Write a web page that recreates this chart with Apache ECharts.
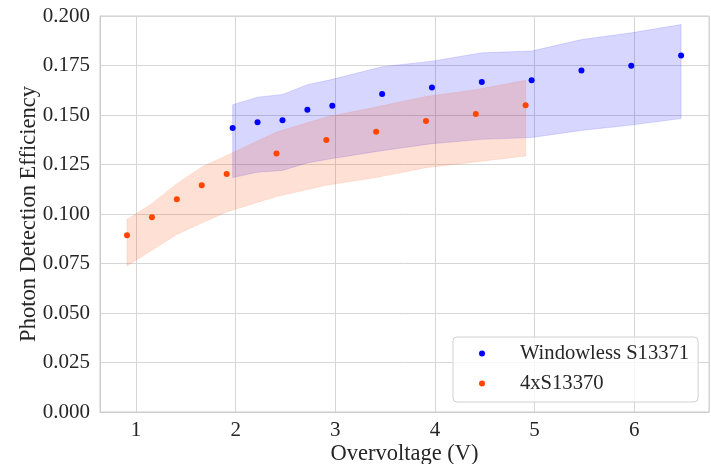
<!DOCTYPE html>
<html>
<head>
<meta charset="utf-8">
<script src="https://cdn.jsdelivr.net/npm/echarts@6/dist/echarts.min.js"></script>
<style>
  html, body { margin: 0; padding: 0; background: #fff; }
  #main { width: 711px; height: 464px; }
</style>
</head>
<body>
<div id="main"></div>
<script>
// Windowless S13371
const blueX  = [1.97, 2.22, 2.47, 2.72, 2.97, 3.47, 3.97, 4.47, 4.97, 5.47, 5.97, 6.47];
const blueY  = [0.1434, 0.1463, 0.1473, 0.1527, 0.1547, 0.1606, 0.1639, 0.1667, 0.1676, 0.1725, 0.1749, 0.1801];
const blueHi = [0.1552, 0.1590, 0.1604, 0.1653, 0.1680, 0.1744, 0.1772, 0.1814, 0.1823, 0.1881, 0.1915, 0.1957];
const blueLo = [0.1184, 0.1211, 0.1220, 0.1258, 0.1280, 0.1320, 0.1355, 0.1377, 0.1386, 0.1422, 0.1449, 0.1482];

// 4xS13370
const orangeX  = [0.91, 1.16, 1.41, 1.66, 1.91, 2.41, 2.91, 3.41, 3.91, 4.41, 4.91];
const orangeY  = [0.0893, 0.0984, 0.1074, 0.1145, 0.1202, 0.1305, 0.1374, 0.1416, 0.1470, 0.1505, 0.1549];
const orangeHi = [0.0972, 0.1053, 0.1153, 0.1237, 0.1296, 0.1414, 0.1490, 0.1540, 0.1594, 0.1628, 0.1675];
const orangeLo = [0.0738, 0.0817, 0.0896, 0.0955, 0.1010, 0.1088, 0.1145, 0.1184, 0.1234, 0.1263, 0.1293];

const xTicks = [1, 2, 3, 4, 5, 6];
const names = ['Windowless S13371', '4xS13370'];

const font = 'Liberation Serif';
const textCol = '#262626';

function band(xs, lo, hi, fill, stroke) {
    return function(params, api) {
        let pts = [];
        for (let i = 0; i < xs.length; i++) pts.push(api.coord([xs[i], hi[i]]));
        for (let i = xs.length - 1; i >= 0; i--) pts.push(api.coord([xs[i], lo[i]]));
        return {
            type: 'polygon',
            shape: { points: pts },
            style: { fill: fill, stroke: stroke, lineWidth: 1 }
        };
    };
}

let chart = echarts.init(document.getElementById('main'));
let option = {
    animation: false,
    backgroundColor: '#fff',
    grid: {
        left: 100, right: 2, top: 16, bottom: 52,
        outerBoundsMode: 'none',
        show: true, borderColor: '#cccccc', borderWidth: 1
    },
    xAxis: {
        type: 'value',
        min: 0.639, max: 6.75,
        splitNumber: 6,
        name: 'Overvoltage (V)',
        nameLocation: 'middle',
        nameGap: 31,
        nameMoveOverlap: false,
        nameTextStyle: { fontFamily: font, fontSize: 22.5, color: textCol },
        axisLine: { lineStyle: { color: '#cccccc' } },
        axisTick: { show: false },
        axisLabel: {
            fontFamily: font, fontSize: 21, color: textCol, margin: 8,
            formatter: v => xTicks.includes(v) ? String(v) : ''
        },
        splitLine: { show: true, lineStyle: { color: '#d6d6d6', width: 1 } }
    },
    yAxis: {
        type: 'value',
        min: 0, max: 0.2, interval: 0.025,
        name: 'Photon Detection Efficiency',
        nameLocation: 'middle',
        nameGap: 59,
        nameMoveOverlap: false,
        nameTextStyle: { fontFamily: font, fontSize: 22.5, color: textCol },
        axisLine: { show: true, lineStyle: { color: '#cccccc' } },
        axisTick: { show: false },
        axisLabel: {
            fontFamily: font, fontSize: 21, color: textCol, margin: 10,
            formatter: v => v.toFixed(3)
        },
        splitLine: { show: true, lineStyle: { color: '#d6d6d6', width: 1 } }
    },
    legend: {
        data: names,
        orient: 'vertical',
        left: 453, top: 337,
        padding: [6, 9, 8, 26],
        itemGap: 9,
        itemWidth: 6, itemHeight: 6,
        icon: 'circle',
        backgroundColor: 'rgba(255,255,255,0.8)',
        borderColor: '#d0d0d0', borderWidth: 1, borderRadius: 4,
        formatter: name => '{t|' + name + '}',
        textStyle: {
            fontFamily: font, fontSize: 20.6, color: textCol, lineHeight: 20,
            rich: { t: { fontFamily: font, fontSize: 20.6, color: textCol, lineHeight: 20, padding: [0, 0, 0, 30] } }
        }
    },
    series: [
        {
            type: 'custom', silent: true, z: 1,
            renderItem: band(blueX, blueLo, blueHi, 'rgba(0,0,255,0.16)', 'rgba(0,0,255,0.12)'),
            data: [[blueX[0], blueLo[0]]]
        },
        {
            type: 'custom', silent: true, z: 2,
            renderItem: band(orangeX, orangeLo, orangeHi, 'rgba(255,69,0,0.17)', 'rgba(255,69,0,0.1)'),
            data: [[orangeX[0], orangeLo[0]]]
        },
        {
            name: names[0], type: 'scatter', z: 3,
            symbolSize: 6,
            itemStyle: { color: '#0000ff', opacity: 1 },
            data: blueX.map((x, i) => [x, blueY[i]])
        },
        {
            name: names[1], type: 'scatter', z: 4,
            symbolSize: 6,
            itemStyle: { color: '#ff4500', opacity: 1 },
            data: orangeX.map((x, i) => [x, orangeY[i]])
        }
    ]
};
chart.setOption(option);
</script>
</body>
</html>
